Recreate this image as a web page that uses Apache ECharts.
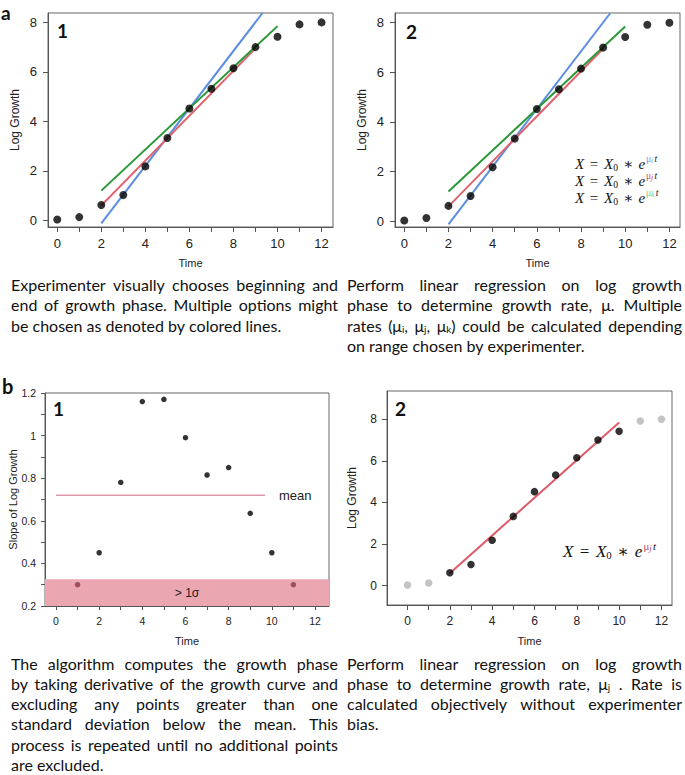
<!DOCTYPE html>
<html><head><meta charset="utf-8">
<script src="https://cdn.jsdelivr.net/npm/echarts@6.0.0/dist/echarts.min.js"></script>
<style>html,body{margin:0;padding:0;background:#fff}#c{width:685px;height:775px}</style>
</head><body><div id="c"></div>
<script>
// ---------------- data ----------------
const timeA = [0,1,2,3,4,5,6,7,8,9,10,11,12];
const logGrowth = [0.03,0.13,0.62,1.02,2.18,3.33,4.52,5.32,6.15,7.00,7.42,7.92,8.00];
const fitBlueT = [2, 9.32],  fitBlueY = [-0.12, 8.38];
const fitRedT = [2, 9],      fitRedY = [0.60, 6.95];
const fitGreenT = [2, 10],   fitGreenY = [1.20, 7.85];
const slopeT = [1,2,3,4,5,6,7,8,9,10,11];
const slopeVals = [0.30,0.45,0.78,1.16,1.17,0.99,0.815,0.85,0.635,0.45,0.30];
const meanValue = 0.72;
const meanSpanT = [0, 9.68];
const bandRange = [0.2, 0.326];
const excludedT = [0,1,11,12];
const fitJT = [2, 10], fitJY = [0.60, 7.85];
const xTickLabels = [0,2,4,6,8,10,12];
const xTickMarks = [0,1,2,3,4,5,6,7,8,9,10,11,12];
const yTicksLog = [0,2,4,6,8];
const yTicksSlope = [0.2,0.4,0.6,0.8,1,1.2];
const yMinorSlope = [0.2,0.3,0.4,0.5,0.6,0.7,0.8,0.9,1.0,1.1,1.2];

const captionA1 = ["Experimenter visually chooses beginning and","end of growth phase. Multiple options might","be chosen as denoted by colored lines."];
const captionA2 = ["Perform linear regression on log growth","phase to determine growth rate, μ. Multiple","rates (μ_i, μ_j, μ_k) could be calculated depending","on range chosen by experimenter."];
const captionB1 = ["The algorithm computes the growth phase","by taking derivative of the growth curve and","excluding any points greater than one","standard deviation below the mean. This","process is repeated until no additional points","are excluded."];
const captionB2 = ["Perform linear regression on log growth","phase to determine growth rate, μ_j . Rate is","calculated objectively without experimenter","bias."];

// ---------------- styles ----------------
const SANS = '"Liberation Sans", Arial, sans-serif';
const CAP = 'Lato, "Open Sans", sans-serif';
const SERIF = '"Liberation Serif", "DejaVu Serif", serif';
const AX = '#555';
const C_BLUE = '#5b8ee0', C_RED = '#e0646f', C_GREEN = '#2a9838';

const ctx = document.createElement('canvas').getContext('2d');
function measure(t, size, fam, st, wt){ ctx.font = (st||'normal')+' '+(wt||'normal')+' '+size+'px '+fam; return ctx.measureText(t).width; }

function txt(x, y, t, o){
  return {type:'text', x:x, y:y, silent:true, z:50,
    style:{text:t, fontSize:o.size, fontFamily:o.fam, fontStyle:o.st||'normal', fontWeight:o.wt||'normal',
      fill:o.color||'#111', align:o.align||'left', verticalAlign:'middle', textAlign:o.align||'left', textVerticalAlign:'middle'}};
}
function run(x, y, segs){
  const els=[]; let cx=x;
  segs.forEach(s=>{
    if (s.gap!==undefined){ cx+=s.gap; return; }
    els.push(txt(cx, y+(s.dy||0), s.t, s));
    cx += measure(s.t, s.size, s.fam, s.st, s.wt) + (s.after||0);
  });
  return els;
}
function parseWord(w, size){
  const segs=[]; let buf='';
  for (let i=0;i<w.length;i++){
    if (w[i]==='_' && i+1<w.length){
      if (buf){ segs.push({t:buf,size:size,fam:CAP,dy:0}); buf=''; }
      segs.push({t:w[i+1], size:size*0.62, fam:CAP, dy:4}); i++;
    } else buf+=w[i];
  }
  if (buf) segs.push({t:buf,size:size,fam:CAP,dy:0});
  segs.forEach(s=>{ s.w = measure(s.t, s.size, s.fam); });
  return segs;
}
function caption(lines, left, right, y0, lh, size){
  const els=[];
  const spaceW = measure(' ', size, CAP);
  lines.forEach((line, li)=>{
    const words = line.split(' ');
    const ws = words.map(w=>parseWord(w,size));
    const widths = ws.map(ss=>ss.reduce((a,s)=>a+s.w,0));
    const total = widths.reduce((a,b)=>a+b,0);
    const last = li===lines.length-1;
    const gap = (!last && words.length>1) ? (right-left-total)/(words.length-1) : spaceW;
    let x = left; const y = y0 + li*lh;
    ws.forEach(ss=>{ ss.forEach(s=>{ els.push(txt(x, y+s.dy, s.t, {size:s.size, fam:s.fam, color:'#111'})); x+=s.w; }); x+=gap; });
  });
  return els;
}
function equation(x, y, size, subColor, subLetter){
  const sup = size*0.64;
  return run(x, y, [
    {t:'X', size:size, fam:SERIF, st:'italic'}, {gap:size*0.38},
    {t:'=', size:size, fam:SERIF}, {gap:size*0.38},
    {t:'X', size:size, fam:SERIF, st:'italic'},
    {t:'0', size:sup, fam:SERIF, dy:size*0.25}, {gap:size*0.34},
    {t:'∗', size:size, fam:SERIF}, {gap:size*0.34},
    {t:'e', size:size, fam:SERIF, st:'italic', after:size*0.06},
    {t:'μ', size:sup, fam:SERIF, dy:-size*0.32, color:subColor},
    {t:subLetter, size:sup*0.8, fam:SERIF, st:'italic', dy:-size*0.2, color:subColor, after:size*0.08},
    {t:'t', size:sup, fam:SERIF, st:'italic', dy:-size*0.32}
  ]);
}

// ---------------- axes ----------------
function xAx(gi, min, max, o){
  return {type:'value', gridIndex:gi, min:min, max:max,
    name:'Time', nameLocation:'middle', nameGap:o.nameGap, nameMoveOverlap:false,
    nameTextStyle:{fontFamily:SANS, fontSize:o.nameSize, color:'#222'},
    axisLine:{show:true, onZero:false, lineStyle:{color:AX, width:1}},
    axisTick:{show:true, customValues:xTickMarks, length:o.tick, lineStyle:{color:AX}},
    axisLabel:{customValues:xTickLabels, fontFamily:SANS, fontSize:o.label, color:'#222', margin:o.margin},
    splitLine:{show:false}};
}
function yAx(gi, min, max, name, labels, marks, o){
  return {type:'value', gridIndex:gi, min:min, max:max,
    name:name, nameLocation:'middle', nameGap:o.nameGap, nameMoveOverlap:false,
    nameTextStyle:{fontFamily:SANS, fontSize:o.nameSize, color:'#222'},
    axisLine:{show:true, onZero:false, lineStyle:{color:AX, width:1}},
    axisTick:{show:true, customValues:marks, length:o.tick, lineStyle:{color:AX}},
    axisLabel:{customValues:labels, fontFamily:SANS, fontSize:o.label, color:'#222', margin:o.margin},
    splitLine:{show:false}};
}
const gridBase = {show:true, borderColor:'#666', borderWidth:1, backgroundColor:'transparent', containLabel:false, outerBoundsMode:'none'};

const pts = (xs, ys) => xs.map((t,i)=>[t, ys[i]]);
function fitLine(xi, xs, ys, color){
  return {type:'line', xAxisIndex:xi, yAxisIndex:xi, data:pts(xs,ys), showSymbol:false, symbol:'none', silent:true,
    lineStyle:{color:color, width:2}, z:2, animation:false, clip:true};
}

const growthPts = pts(timeA, logGrowth);
const series = [
  fitLine(0, fitBlueT, fitBlueY, C_BLUE), fitLine(0, fitRedT, fitRedY, C_RED), fitLine(0, fitGreenT, fitGreenY, C_GREEN),
  {type:'scatter', xAxisIndex:0, yAxisIndex:0, data:growthPts, symbolSize:8, itemStyle:{color:'#000'}, z:3, animation:false},
  fitLine(1, fitBlueT, fitBlueY, C_BLUE), fitLine(1, fitRedT, fitRedY, C_RED), fitLine(1, fitGreenT, fitGreenY, C_GREEN),
  {type:'scatter', xAxisIndex:1, yAxisIndex:1, data:growthPts, symbolSize:8, itemStyle:{color:'#000'}, z:3, animation:false},
  {type:'line', xAxisIndex:2, yAxisIndex:2, data:pts(meanSpanT,[meanValue,meanValue]), showSymbol:false, symbol:'none', silent:true,
    lineStyle:{color:'#dd97a8', width:1.5}, z:2, animation:false,
    endLabel:{show:true, formatter:'mean', distance:14, fontFamily:SANS, fontSize:13, color:'#222'},
    markArea:{silent:true, itemStyle:{color:'#eaa7b2'},
      label:{show:true, position:'inside', formatter:'> 1σ', fontFamily:SANS, fontSize:12, color:'#222'},
      data:[[{yAxis:bandRange[0]},{yAxis:bandRange[1]}]]}},
  {type:'scatter', xAxisIndex:2, yAxisIndex:2, data:pts(slopeT, slopeVals), symbolSize:5.5, z:3, animation:false,
    itemStyle:{color:p=>p.value[1] < bandRange[1] ? '#8a3a4a' : '#000'}},
  fitLine(3, fitJT, fitJY, '#dd5a66'),
  {type:'scatter', xAxisIndex:3, yAxisIndex:3, data:growthPts.filter(p=>!excludedT.includes(p[0])), symbolSize:7.5, itemStyle:{color:'#000'}, z:3, animation:false},
  {type:'scatter', xAxisIndex:3, yAxisIndex:3, data:growthPts.filter(p=>excludedT.includes(p[0])), symbolSize:7.5, itemStyle:{color:'#b5b5b5'}, z:3, animation:false}
];

const BOLD = {fam:CAP, wt:'bold', color:'#111'};
let graphics = [];
graphics.push(txt(1, 12, 'a', Object.assign({size:19}, BOLD)));
graphics.push(txt(2, 386, 'b', Object.assign({size:20}, BOLD)));
graphics.push(txt(57, 30, '1', Object.assign({size:19}, BOLD)));
graphics.push(txt(406, 31, '2', Object.assign({size:19}, BOLD)));
graphics.push(txt(53, 408, '1', Object.assign({size:19}, BOLD)));
graphics.push(txt(395, 408, '2', Object.assign({size:19}, BOLD)));
graphics = graphics.concat(equation(575, 163.5, 15, '#6a9de8', 'i'));
graphics = graphics.concat(equation(575, 180.5, 15, '#c94a62', 'j'));
graphics = graphics.concat(equation(575, 197.5, 15, '#86c97e', 'k'));
graphics = graphics.concat(equation(563, 551, 17, '#b8486a', 'j'));
graphics = graphics.concat(caption(captionA1, 11, 338, 284, 20.6, 16));
graphics = graphics.concat(caption(captionA2, 347, 682, 284, 20.6, 16));
graphics = graphics.concat(caption(captionB1, 11, 338, 663, 20.3, 16));
graphics = graphics.concat(caption(captionB2, 347, 682, 663, 20.3, 16));

const chart = echarts.init(document.getElementById('c'), null, {renderer:'svg', width:685, height:775});
chart.setOption({
  animation:false,
  backgroundColor:'#fff',
  grid:[
    Object.assign({left:48, top:13, width:285, height:214}, gridBase),
    Object.assign({left:395, top:13, width:285, height:214}, gridBase),
    Object.assign({left:45, top:393, width:284, height:213}, gridBase),
    Object.assign({left:387, top:391, width:285, height:214}, gridBase)
  ],
  xAxis:[
    xAx(0, -0.42, 12.52, {nameGap:30.5, nameSize:11, tick:5, label:13, margin:10}),
    xAx(1, -0.42, 12.48, {nameGap:30.5, nameSize:11, tick:5, label:13, margin:10}),
    xAx(2, -0.51, 12.65, {nameGap:29.5, nameSize:11, tick:4, label:10.5, margin:9}),
    xAx(3, -0.97, 12.5, {nameGap:30.5, nameSize:11, tick:5, label:12, margin:10})
  ],
  yAxis:[
    yAx(0, -0.27, 8.38, 'Log Growth', yTicksLog, yTicksLog, {nameGap:27, nameSize:12, tick:5, label:13, margin:11}),
    yAx(1, -0.23, 8.39, 'Log Growth', yTicksLog, yTicksLog, {nameGap:27, nameSize:12, tick:5, label:13, margin:11}),
    yAx(2, 0.2, 1.2, 'Slope of Log Growth', yTicksSlope, yMinorSlope, {nameGap:26.5, nameSize:11, tick:4, label:10.5, margin:9}),
    yAx(3, -0.93, 9.36, 'Log Growth', yTicksLog, yTicksLog, {nameGap:29, nameSize:12, tick:5, label:12, margin:10})
  ],
  series:series,
  graphic:{elements:graphics}
});
</script></body></html>
